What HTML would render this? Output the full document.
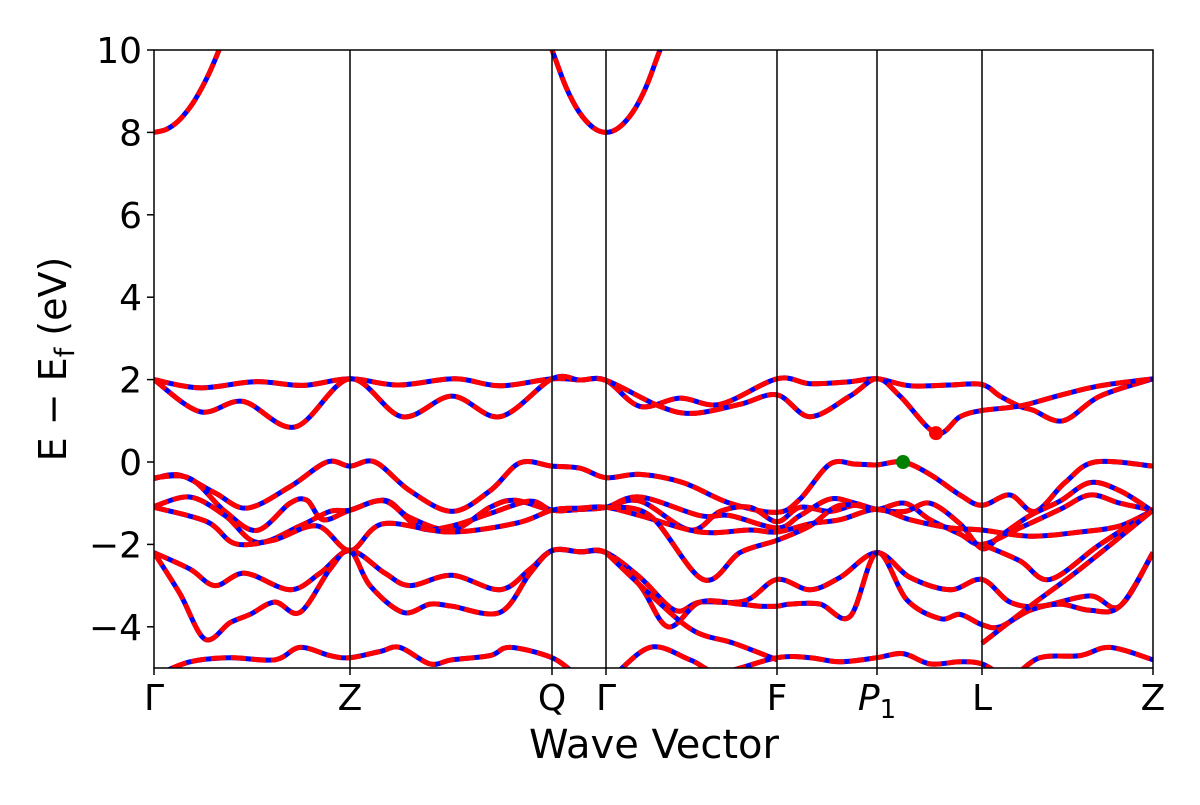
<!DOCTYPE html>
<html><head><meta charset="utf-8">
<style>
html,body{margin:0;padding:0;background:#fff;}
svg text{font-family:"DejaVu Sans","Liberation Sans",sans-serif;fill:#000;}
</style></head>
<body>
<svg id="chart" width="1200" height="800" viewBox="0 0 1200 800" xmlns="http://www.w3.org/2000/svg">
<defs><clipPath id="clip"><rect x="154" y="50" width="999" height="618"/></clipPath></defs>
<rect x="0" y="0" width="1200" height="800" fill="#fff"/>
<g id="bands" clip-path="url(#clip)"></g>
<g id="vlines"></g>
<rect x="154" y="50" width="999" height="618" fill="none" stroke="#000" stroke-width="1.5"/>
<g id="yaxis"></g>
<g id="xaxis"></g>
<g id="markers"></g>
<text x="654" y="758" font-size="40" text-anchor="middle">Wave Vector</text>
<text transform="translate(66,359) rotate(-90)" font-size="38" text-anchor="middle">E − E<tspan font-size="27" dy="8">f</tspan><tspan dy="-8"> (eV)</tspan></text>
</svg>
<script>
const kLabels = ["Γ","Z","Q","Γ","F","P1","L","Z"];
const kTicks = [0,196,398,452,623,723,828,999];
const yTicks = [10,8,6,4,2,0,-2,-4];
const eMin = -5, eMax = 10, kMax = 999;
const vbm = [749, 0.0];
const cbm = [782, 0.7];

const cb1 = [[0,8],[12,8.07],[24,8.27],[36,8.61],[46,9.0],[56,9.48],[66,10.06],[76,10.7]];
const cb2 = [[386,10.7],[398,10.0],[412,9.1],[425,8.5],[439,8.12],[452,8.0],[465,8.12],[479,8.5],[492,9.1],[506,10.0],[518,10.7]];
const c1 = [[0,2.0],[46,1.8],[101,1.95],[149,1.86],[196,2.02],[244,1.87],[301,2.02],[346,1.85],[398,2.02],[426,1.99],[452,1.98],[486,1.35],[526,1.55],[566,1.4],[623,2.02],[656,1.9],[696,1.95],[723,2.02],[756,1.85],[796,1.87],[828,1.88],[846,1.6],[866,1.35],[879,1.26],[909,1.0],[946,1.6],[999,2.02]];
const c2 = [[0,2.0],[46,1.22],[89,1.47],[141,0.85],[196,2.02],[248,1.1],[298,1.6],[346,1.1],[398,2.02],[426,1.99],[452,1.98],[506,1.35],[539,1.18],[586,1.4],[623,1.63],[656,1.1],[696,1.6],[723,2.02],[746,1.6],[782,0.7],[806,1.1],[828,1.25],[866,1.36],[906,1.62],[946,1.85],[999,2.02]];
const v1 = [[0,-0.4],[26,-0.32],[61,-0.75],[93,-1.12],[136,-0.6],[173,0.0],[196,-0.1],[221,0.0],[256,-0.7],[298,-1.2],[336,-0.7],[366,-0.02],[398,-0.1],[426,-0.15],[452,-0.38],[486,-0.3],[529,-0.5],[576,-1.0],[623,-1.22],[646,-0.9],[676,-0.05],[701,-0.05],[723,-0.07],[749,0.0],[776,-0.3],[806,-0.8],[828,-1.05],[856,-0.8],[881,-1.2],[911,-0.5],[941,0.0],[999,-0.1]];
const v2 = [[0,-0.38],[36,-0.4],[71,-1.2],[103,-1.66],[136,-1.0],[153,-0.93],[169,-1.4],[196,-1.17],[231,-0.93],[256,-1.35],[298,-1.65],[336,-1.1],[361,-0.93],[398,-1.17],[426,-1.15],[452,-1.1],[486,-0.95],[536,-1.65],[566,-1.2],[596,-1.1],[623,-1.45],[646,-1.1],[676,-1.2],[701,-1.05],[723,-1.15],[751,-1.0],[776,-1.4],[806,-1.75],[828,-2.0],[866,-1.6],[906,-1.15],[936,-0.8],[966,-1.0],[999,-1.17]];
const v3 = [[0,-1.08],[36,-0.85],[71,-1.3],[103,-1.95],[146,-1.55],[176,-1.2],[196,-1.17],[231,-0.95],[266,-1.6],[298,-1.55],[336,-1.25],[376,-0.95],[398,-1.17],[426,-1.15],[452,-1.1],[486,-0.85],[546,-1.3],[576,-1.3],[623,-1.6],[646,-1.3],[676,-0.9],[701,-1.0],[723,-1.15],[751,-1.2],[776,-1.0],[806,-1.5],[828,-2.1],[846,-1.8],[876,-1.3],[906,-0.95],[936,-0.5],[966,-0.7],[999,-1.2]];
const v4 = [[0,-1.1],[53,-1.45],[81,-1.98],[119,-1.9],[163,-1.55],[196,-2.15],[229,-1.5],[296,-1.7],[363,-1.48],[398,-1.17],[426,-1.12],[452,-1.1],[486,-1.3],[546,-1.7],[596,-1.65],[623,-1.7],[656,-1.5],[686,-1.4],[723,-1.15],[756,-1.4],[796,-1.6],[828,-1.65],[876,-1.8],[926,-1.7],[966,-1.55],[999,-1.17]];
const v5 = [[452,-1.1],[496,-1.3],[549,-2.85],[586,-2.2],[623,-1.9],[656,-1.55],[686,-1.05],[723,-1.15]];
const v6 = [[0,-2.2],[36,-2.6],[61,-3.0],[91,-2.7],[136,-3.1],[166,-2.7],[196,-2.15],[231,-2.7],[256,-3.0],[298,-2.75],[346,-3.1],[376,-2.6],[398,-2.15],[426,-2.18],[452,-2.2],[486,-2.8],[521,-3.6],[546,-3.4],[591,-3.37],[623,-2.85],[656,-3.1],[686,-2.8],[723,-2.2],[756,-2.8],[796,-3.1],[828,-2.85],[856,-3.4],[886,-3.5],[936,-3.25],[966,-3.5],[999,-2.2]];
const v7 = [[0,-2.2],[26,-3.2],[51,-4.3],[76,-3.9],[96,-3.7],[121,-3.4],[146,-3.65],[176,-2.6],[196,-2.15],[216,-3.0],[249,-3.65],[276,-3.45],[298,-3.5],[346,-3.65],[376,-2.7],[398,-2.15],[426,-2.18],[452,-2.2],[486,-3.0],[514,-4.0],[546,-3.4],[586,-3.45],[606,-3.5],[623,-3.5],[636,-3.45],[666,-3.45],[696,-3.75],[723,-2.2],[753,-3.35],[786,-3.8],[806,-3.7],[828,-3.95],[846,-4.0],[876,-3.6],[906,-3.45],[936,-3.6],[966,-3.5],[999,-2.2]];
const v8 = [[0,-5.2],[36,-4.85],[76,-4.75],[121,-4.8],[146,-4.5],[176,-4.7],[196,-4.75],[226,-4.6],[246,-4.5],[276,-4.9],[298,-4.8],[336,-4.7],[356,-4.5],[398,-4.75],[426,-5.2],[452,-5.3],[496,-4.5],[536,-4.8],[566,-5.1],[623,-4.75],[656,-4.75],[686,-4.85],[723,-4.75],[749,-4.65],[776,-4.9],[806,-4.85],[828,-4.9],[856,-5.2],[886,-4.75],[926,-4.7],[956,-4.5],[999,-4.8]];
const v9 = [[828,-2.0],[866,-2.4],[896,-2.85],[946,-2.0],[999,-1.17]];
const v10 = [[828,-4.4],[876,-3.5],[926,-2.6],[999,-1.17]];
const v11 = [[452,-2.2],[500,-3.3],[540,-4.1],[580,-4.4],[623,-4.8]];
const bandList = [cb1,cb2,c1,c2,v1,v2,v3,v4,v5,v6,v7,v8,v9,v10,v11];

const X0=154, X1=1153, Y0=50, Y1=668;
const xS = k => X0 + (k/kMax)*(X1-X0);
const yS = e => Y1 - (e-eMin)/(eMax-eMin)*(Y1-Y0);
const NS = "http://www.w3.org/2000/svg";

function smoothPath(pts){
  const p = pts.map(d=>[xS(d[0]), yS(d[1])]);
  let s = "M"+p[0][0].toFixed(1)+","+p[0][1].toFixed(1);
  for(let i=0;i<p.length-1;i++){
    const a=p[Math.max(0,i-1)], b=p[i], c=p[i+1], d=p[Math.min(p.length-1,i+2)];
    const c1x=b[0]+(c[0]-a[0])/6, c1y=b[1]+(c[1]-a[1])/6;
    const c2x=c[0]-(d[0]-b[0])/6, c2y=c[1]-(d[1]-b[1])/6;
    s+=" C"+c1x.toFixed(1)+","+c1y.toFixed(1)+" "+c2x.toFixed(1)+","+c2y.toFixed(1)+" "+c[0].toFixed(1)+","+c[1].toFixed(1);
  }
  return s;
}
const gB = document.getElementById("bands");
bandList.forEach((b,i)=>{
  const d = smoothPath(b);
  const p1 = document.createElementNS(NS,"path");
  
  
  p1.setAttribute("d",d); p1.setAttribute("fill","none"); p1.setAttribute("stroke","#0000ff"); p1.setAttribute("stroke-width","5");
  gB.appendChild(p1);
  const p2 = document.createElementNS(NS,"path");
  
  
  p2.setAttribute("d",d); p2.setAttribute("fill","none"); p2.setAttribute("stroke","#ff0000"); p2.setAttribute("stroke-width","5"); p2.setAttribute("stroke-dasharray","15 5");
  gB.appendChild(p2);
});
const gV = document.getElementById("vlines");
kTicks.forEach((k,i)=>{
  if(i===0||i===kTicks.length-1) return;
  const l = document.createElementNS(NS,"line");
  
  
  l.setAttribute("x1",xS(k)); l.setAttribute("x2",xS(k)); l.setAttribute("y1",Y0); l.setAttribute("y2",Y1);
  l.setAttribute("stroke","#000"); l.setAttribute("stroke-width","1.5");
  gV.appendChild(l);
});
const gY = document.getElementById("yaxis");
yTicks.forEach(v=>{
  const y = yS(v);
  const t = document.createElementNS(NS,"line");
  
  
  t.setAttribute("x1",X0-7); t.setAttribute("x2",X0); t.setAttribute("y1",y); t.setAttribute("y2",y); t.setAttribute("stroke","#000"); t.setAttribute("stroke-width","1.5");
  gY.appendChild(t);
  const tx = document.createElementNS(NS,"text");
  
  
  tx.setAttribute("x",X0-12); tx.setAttribute("y",y+13); tx.setAttribute("font-size","36"); tx.setAttribute("text-anchor","end");
  tx.textContent = v<0 ? "−"+Math.abs(v) : String(v);
  gY.appendChild(tx);
});
const gX = document.getElementById("xaxis");
kTicks.forEach((k,i)=>{
  const x = xS(k);
  const t = document.createElementNS(NS,"line");
  
  
  t.setAttribute("x1",x); t.setAttribute("x2",x); t.setAttribute("y1",Y1); t.setAttribute("y2",Y1+7); t.setAttribute("stroke","#000"); t.setAttribute("stroke-width","1.5");
  gX.appendChild(t);
  const tx = document.createElementNS(NS,"text");
  
  
  tx.setAttribute("x",x); tx.setAttribute("y",Y1+42); tx.setAttribute("font-size","36"); tx.setAttribute("text-anchor","middle");
  const lab = kLabels[i];
  if(lab==="P1"){
    tx.innerHTML = '<tspan font-style="italic">P</tspan><tspan font-size="26" dy="8">1</tspan>';
  } else tx.textContent = lab;
  gX.appendChild(tx);
});
const gM = document.getElementById("markers");
const mk1 = document.createElementNS(NS,"circle");


mk1.setAttribute("cx",xS(vbm[0])); mk1.setAttribute("cy",yS(vbm[1])); mk1.setAttribute("r","7"); mk1.setAttribute("fill","#008000");
gM.appendChild(mk1);
const mk2 = document.createElementNS(NS,"circle");


mk2.setAttribute("cx",xS(cbm[0])); mk2.setAttribute("cy",yS(cbm[1])); mk2.setAttribute("r","7"); mk2.setAttribute("fill","#ff0000");
gM.appendChild(mk2);
</script>
</body></html>
